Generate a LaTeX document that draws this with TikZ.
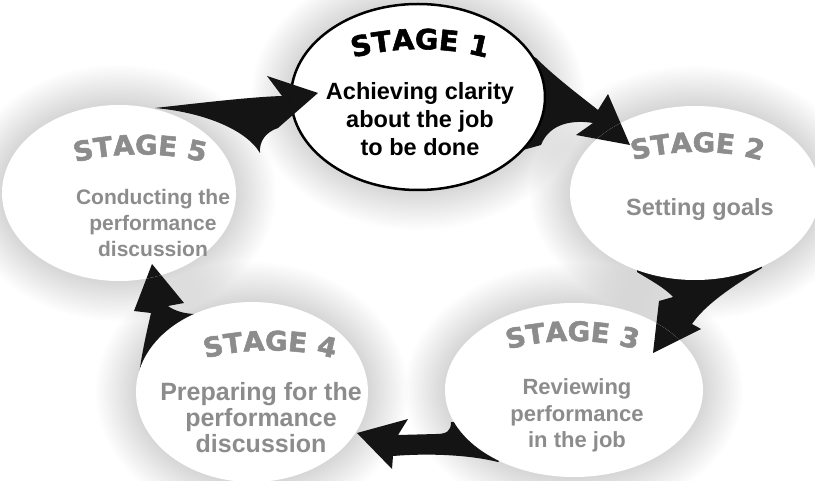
\documentclass[tikz,border=0pt]{standalone}
\usepackage{fontspec}
\setmainfont{Liberation Sans}
\newfontfamily\stagefont[FakeStretch=1.02,FakeBold=2]{DejaVu Sans}
\usetikzlibrary{shapes.geometric,decorations.text}
\definecolor{stagegrey}{RGB}{140,140,140}

% soft grey halo behind an oval: centre x, centre y, x radius, y radius
\newcommand\softglow[4]{%
  \foreach \k in {1,...,20}{%
    \fill[black,opacity=0.0095] (#1,#2) ellipse [x radius={#3+42-2*\k}, y radius={#4+42-2*\k}];
  }}

% outlines of the five curved arrows (pixel-style coordinates, y downwards)
\newcommand\arrowAB{(495,35) -- (536,58) .. controls (556,78) and (583,98) .. (598,110)
  -- (608,94) -- (630,145) -- (576,135) -- (593,123)
  .. controls (575,120) and (550,122) .. (541,145) -- (505,155) -- cycle}
\newcommand\arrowBC{(640,250) -- (637,272) .. controls (650,280) and (665,288) .. (673,297)
  -- (659,301) -- (653,353) -- (701,329) -- (692,324)
  .. controls (705,305) and (730,288) .. (762,268) -- (760,245) -- cycle}
\newcommand\arrowCD{(510,425) -- (451,422) .. controls (451,431) and (447,434) .. (436,434)
  -- (398,435) -- (408,419) -- (357,433) -- (392,469) -- (393,456)
  .. controls (430,453) and (470,455) .. (498,462) -- (515,445) -- cycle}
\newcommand\arrowDE{(165,400) -- (137,392) .. controls (140,360) and (146,335) .. (151,313)
  -- (134,311) -- (152,264) -- (184,303) -- (168,306)
  .. controls (180,315) and (205,318) .. (230,307) -- (235,330) -- cycle}
\newcommand\arrowEA{(155,108) .. controls (200,103) and (250,97) .. (282,96)
  -- (267,76) -- (318,93) -- (278,128)
  .. controls (266,132) and (259,141) .. (260,153)
  .. controls (245,128) and (200,112) .. (155,108) -- cycle}

\tikzset{
  stageoval/.style={ellipse, fill=white, inner sep=0pt},
  cyclearrow/.style={fill=black!92},
  bodytext/.style={anchor=base, inner sep=0pt},
}

\begin{document}
\begin{tikzpicture}[x=1pt,y=-1pt]
\useasboundingbox (0,0) rectangle (815,481);
\fill[white] (0,0) rectangle (815,481);

% halos
\softglow{418}{97}{127}{93}
\softglow{695}{193}{125}{87}
\softglow{574}{390}{129}{87}
\softglow{252}{392}{116}{90}
\softglow{119}{193}{117}{88}

% arrows underneath the ovals
\fill[cyclearrow] \arrowAB;
\fill[cyclearrow] \arrowBC;
\fill[cyclearrow] \arrowCD;
\fill[cyclearrow] \arrowDE;
\fill[cyclearrow] \arrowEA;

% the five ovals
\node[stageoval, draw=black, line width=2.5pt, minimum width=254pt, minimum height=186pt] (s1) at (418,97) {};
\node[stageoval, minimum width=250pt, minimum height=174pt] (s2) at (695,193) {};
\node[stageoval, minimum width=258pt, minimum height=174pt] (s3) at (574,390) {};
\node[stageoval, minimum width=232pt, minimum height=180pt] (s4) at (252,392) {};
\node[stageoval, minimum width=234pt, minimum height=176pt] (s5) at (119,193) {};

% arrow heads lying over their target ovals
\begin{scope}\clip (695,193) ellipse [x radius=125, y radius=87]; \fill[cyclearrow] \arrowAB; \end{scope}
\begin{scope}\clip (574,390) ellipse [x radius=129, y radius=87]; \fill[cyclearrow] \arrowBC; \end{scope}
\begin{scope}\clip (252,392) ellipse [x radius=116, y radius=90]; \fill[cyclearrow] \arrowCD; \end{scope}
\begin{scope}\clip (119,193) ellipse [x radius=117, y radius=88]; \fill[cyclearrow] \arrowDE; \end{scope}
\begin{scope}\clip (418,97) ellipse [x radius=128.5, y radius=94.5]; \fill[cyclearrow] \arrowEA; \end{scope}

% curved stage titles
\path[decorate, decoration={text along path, text align=center,
  text={|\stagefont\bfseries\fontsize{28}{28}\selectfont\color{black}|STAGE 1}}]
  (333,65) .. controls (382,44) and (458,44) .. (507,65);
\path[decorate, decoration={text along path, text align=center,
  text={|\stagefont\bfseries\fontsize{27}{27}\selectfont\color{stagegrey}|STAGE 2}}]
  (617,167) .. controls (658,147) and (737,147) .. (778,167);
\path[decorate, decoration={text along path, text align=center,
  text={|\stagefont\bfseries\fontsize{27}{27}\selectfont\color{stagegrey}|STAGE 3}}]
  (492,356) .. controls (533,336) and (612,336) .. (653,356);
\path[decorate, decoration={text along path, text align=center,
  text={|\stagefont\bfseries\fontsize{27}{27}\selectfont\color{stagegrey}|STAGE 4}}]
  (190,364) .. controls (231,346) and (309,346) .. (350,364);
\path[decorate, decoration={text along path, text align=center,
  text={|\stagefont\bfseries\fontsize{27}{27}\selectfont\color{stagegrey}|STAGE 5}}]
  (60,168) .. controls (101,150) and (179,150) .. (220,168);

% stage descriptions
\node[bodytext, text=black, font=\bfseries\fontsize{23.5}{28}\selectfont] (t1) at (420,100)
  {\begin{tabular}[t]{@{}c@{}}Achieving clarity\\about the job\\to be done\end{tabular}};
\node[bodytext, text=stagegrey, font=\bfseries\fontsize{23.5}{28}\selectfont] (t2) at (700,216)
  {Setting goals};
\node[bodytext, text=stagegrey, font=\bfseries\fontsize{22}{26.5}\selectfont] (t3) at (577,395)
  {\begin{tabular}[t]{@{}c@{}}Reviewing\\performance\\in the job\end{tabular}};
\node[bodytext, text=stagegrey, font=\bfseries\fontsize{25}{26.5}\selectfont] (t4) at (261,400)
  {\begin{tabular}[t]{@{}c@{}}Preparing for the\\performance\\discussion\end{tabular}};
\node[bodytext, text=stagegrey, font=\bfseries\fontsize{21}{26}\selectfont] (t5) at (153,205)
  {\begin{tabular}[t]{@{}c@{}}Conducting the\\performance\\discussion\end{tabular}};
\end{tikzpicture}
\end{document}
